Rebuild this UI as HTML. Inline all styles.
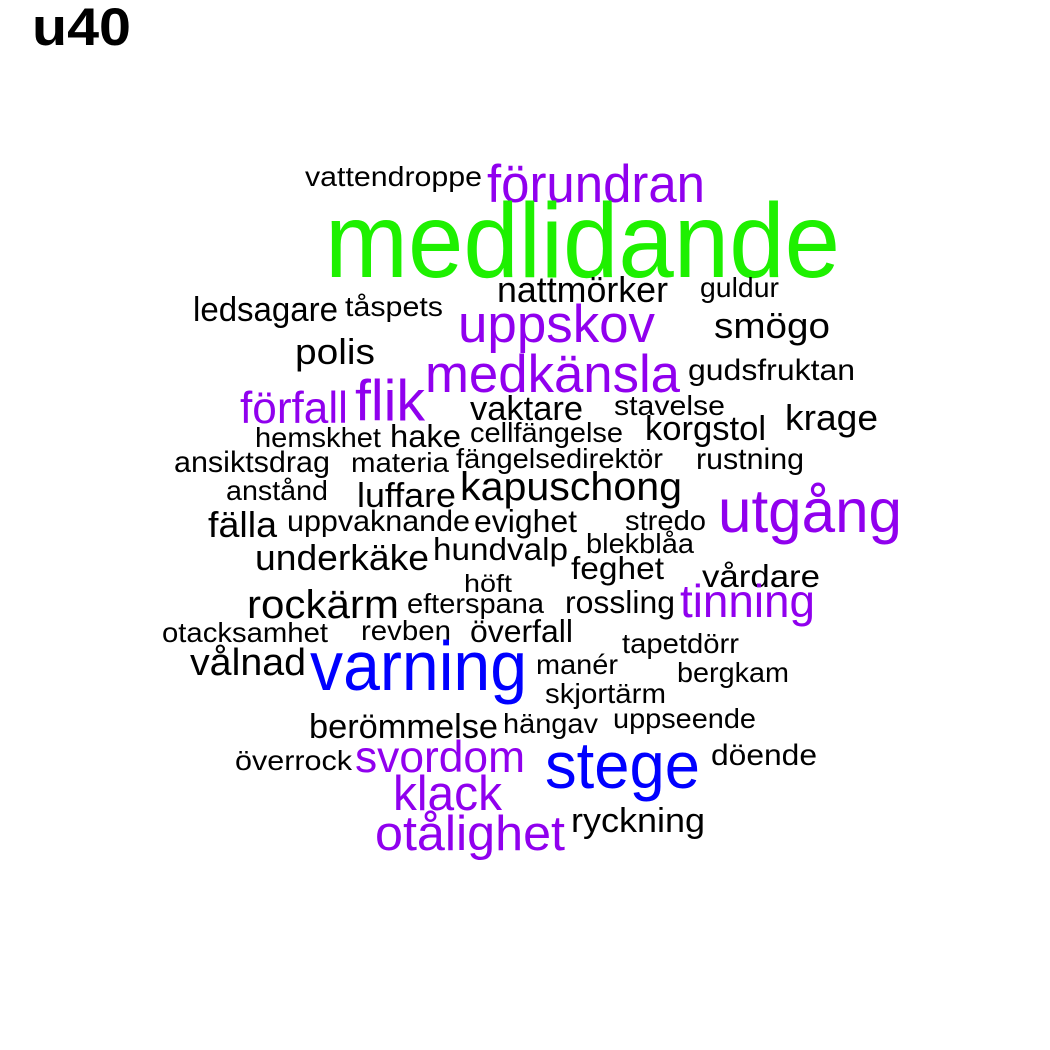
<!DOCTYPE html>
<html>
<head>
<meta charset="utf-8">
<style>
html,body{margin:0;padding:0;background:#fff;}
svg{display:block;}
text{font-family:"Liberation Sans",Arial,sans-serif;}
</style>
</head>
<body>
<svg id="cloud" width="1050" height="1050" viewBox="0 0 1050 1050" xmlns="http://www.w3.org/2000/svg">
<rect width="1050" height="1050" fill="#fff"/>
<text x="32" y="45" font-size="53" font-weight="bold" textLength="99" lengthAdjust="spacingAndGlyphs" fill="#000">u40</text>
</svg>
<script>
const words = ["vattendroppe","förundran","medlidande","nattmörker","guldur","ledsagare","tåspets","uppskov","smögo","polis","medkänsla","gudsfruktan","förfall","flik","vaktare","stavelse","krage","hemskhet","hake","cellfängelse","korgstol","ansiktsdrag","materia","fängelsedirektör","rustning","anstånd","luffare","kapuschong","utgång","fälla","uppvaknande","evighet","stredo","blekblåa","underkäke","hundvalp","höft","feghet","vårdare","rockärm","efterspana","rossling","tinning","otacksamhet","revben","överfall","tapetdörr","vålnad","varning","manér","bergkam","skjortärm","berömmelse","hängav","uppseende","överrock","svordom","stege","döende","klack","ryckning","otålighet"];
const sizes = [26,50,100,34,26,32,26,50,34,34,50,28,42,54,32,26,34,26,30,26,32,28,26,26,28,26,32,38,58,34,28,30,26,26,34,30,24,30,30,38,26,30,44,26,26,30,26,36,66,26,26,26,32,26,26,26,42,62,28,46,32,46];
const colorGroups = ["k","p","g","k","k","k","k","p","k","k","p","k","p","p","k","k","k","k","k","k","k","k","k","k","k","k","k","k","p","k","k","k","k","k","k","k","k","k","k","k","k","k","p","k","k","k","k","k","b","k","k","k","k","k","k","k","p","b","k","p","k","p"];
const layoutX = [305,487,325,497,700,193,345,458,714,295,425,688,240,355,470,614,785,255,390,470,645,174,351,456,696,226,357,460,718,208,287,474,625,586,255,433,464,571,702,247,407,565,680,162,361,470,622,190,310,536,677,545,309,503,613,235,355,545,711,393,571,375];
const layoutY = [186,202,277,302,297,321,316,342,338,364,392,380,423,420,420,415,430,447,447,442,440,472,472,468,469,500,507,500,532,537,531,532,530,553,570,560,592,579,587,618,613,613,617,642,640,642,653,675,690,674,682,703,738,733,728,770,772,788,765,810,832,850];
const spanW = [177,218,515,171,79,145,98,197,116,80,255,167,108,70,113,111,93,126,71,153,121,156,98,207,108,102,99,222,184,69,183,103,81,108,174,135,48,93,118,152,137,110,135,166,90,103,117,116,217,82,112,121,189,95,143,117,170,155,106,109,134,190];
const palette = {k:"#000000", p:"#9000EE", b:"#0000FF", g:"#1EF000"};

const svg = document.getElementById('cloud');
const NS = "http://www.w3.org/2000/svg";
for (let i = 0; i < words.length; i++) {
  const t = document.createElementNS(NS, 'text');
  
  
  t.setAttribute('x', layoutX[i]);
  t.setAttribute('y', layoutY[i]);
  t.setAttribute('font-size', (sizes[i] * 1.06).toFixed(1));
  t.setAttribute('fill', palette[colorGroups[i]]);
  t.setAttribute('textLength', spanW[i]);
  t.setAttribute('lengthAdjust', 'spacingAndGlyphs');
  t.textContent = words[i];
  svg.appendChild(t);
}
</script>
</body>
</html>
